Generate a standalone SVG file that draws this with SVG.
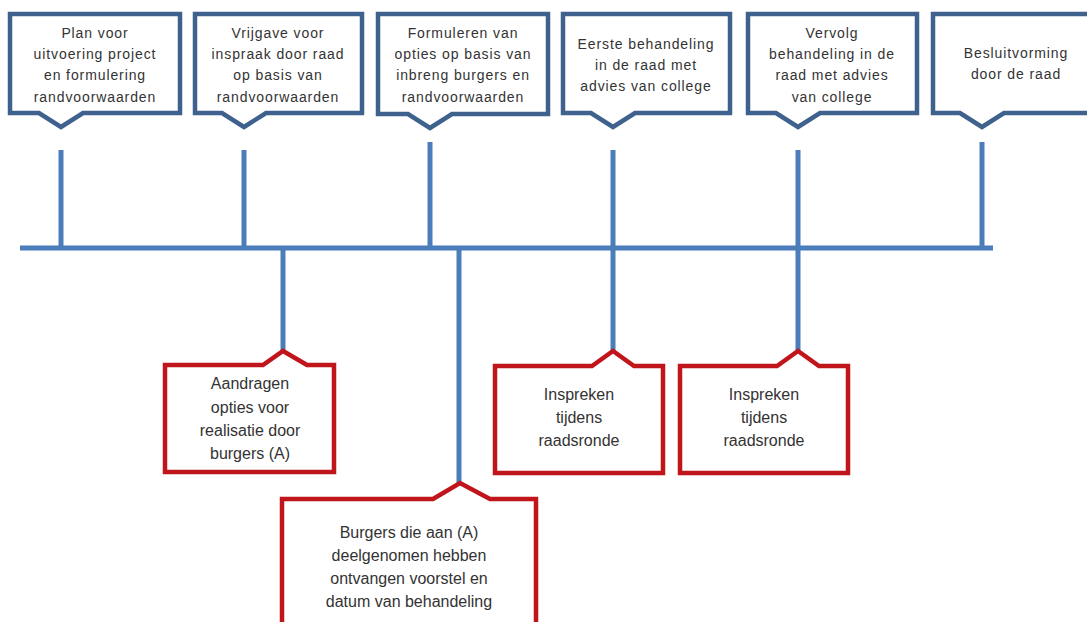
<svg xmlns="http://www.w3.org/2000/svg" width="1087" height="622" viewBox="0 0 1087 622">
<style>
.bb{fill:#fff;stroke:#3f618d;stroke-width:4.5;stroke-linejoin:miter}
.rb{fill:#fff;stroke:#c0151b;stroke-width:4.5;stroke-linejoin:miter}
.ln{stroke:#4a7dba;stroke-width:5;fill:none}
.t{font-family:"Liberation Sans",Arial,sans-serif;font-size:14px;fill:#333;text-anchor:middle;letter-spacing:0.9px}
.tr{font-family:"Liberation Sans",Arial,sans-serif;font-size:16px;fill:#333;text-anchor:middle}
</style>
<rect width="1087" height="622" fill="#fff"/>
<g id="connectors">
<line class="ln" x1="20" y1="248" x2="993" y2="248"/>
<line class="ln" x1="61" y1="150" x2="61" y2="248"/>
<line class="ln" x1="244" y1="150" x2="244" y2="248"/>
<line class="ln" x1="430" y1="142" x2="430" y2="248"/>
<line class="ln" x1="613" y1="150" x2="613" y2="350"/>
<line class="ln" x1="798" y1="150" x2="798" y2="350"/>
<line class="ln" x1="982" y1="142" x2="982" y2="248"/>
<line class="ln" x1="283" y1="248" x2="283" y2="350"/>
<line class="ln" x1="459" y1="248" x2="459" y2="484"/>
</g>
<g id="n1">
<path class="bb" d="M10,14 H180 V113 H83 L61,127 L39,113 H10 Z"/>
<text class="t" x="95" y="38">Plan voor</text>
<text class="t" x="95" y="59">uitvoering project</text>
<text class="t" x="95" y="80">en formulering</text>
<text class="t" x="95" y="102">randvoorwaarden</text>
</g>
<g id="n2">
<path class="bb" d="M195,14 H362 V113 H266 L244,127 L222,113 H195 Z"/>
<text class="t" x="278" y="38">Vrijgave voor</text>
<text class="t" x="278" y="59">inspraak door raad</text>
<text class="t" x="278" y="80">op basis van</text>
<text class="t" x="278" y="102">randvoorwaarden</text>
</g>
<g id="n3">
<path class="bb" d="M378,14 H548 V114 H452 L430,128 L408,114 H378 Z"/>
<text class="t" x="463" y="38">Formuleren van</text>
<text class="t" x="463" y="59">opties op basis van</text>
<text class="t" x="463" y="80">inbreng burgers en</text>
<text class="t" x="463" y="102">randvoorwaarden</text>
</g>
<g id="n4">
<path class="bb" d="M563,14 H730 V113 H635 L613,127 L591,113 H563 Z"/>
<text class="t" x="646" y="49">Eerste behandeling</text>
<text class="t" x="646" y="70">in de raad met</text>
<text class="t" x="646" y="91">advies van college</text>
</g>
<g id="n5">
<path class="bb" d="M748,14 H917 V113 H820 L798,127 L776,113 H748 Z"/>
<text class="t" x="832" y="38">Vervolg</text>
<text class="t" x="832" y="59">behandeling in de</text>
<text class="t" x="832" y="80">raad met advies</text>
<text class="t" x="832" y="102">van college</text>
</g>
<g id="n6">
<path class="bb" d="M933,14 H1103 V113 H1004 L982,127 L960,113 H933 Z"/>
<text class="t" x="1016" y="58">Besluitvorming</text>
<text class="t" x="1016" y="79">door de raad</text>
</g>
<g id="r1">
<path class="rb" d="M165,365 H263 L283,351 L307,365 H334 V472 H165 Z"/>
<text class="tr" x="250" y="389">Aandragen</text>
<text class="tr" x="250" y="413">opties voor</text>
<text class="tr" x="250" y="436">realisatie door</text>
<text class="tr" x="250" y="459">burgers (A)</text>
</g>
<g id="r2">
<path class="rb" d="M495,366 H592 L613,351 L634,366 H663 V473 H495 Z"/>
<text class="tr" x="579" y="400">Inspreken</text>
<text class="tr" x="579" y="423">tijdens</text>
<text class="tr" x="579" y="446">raadsronde</text>
</g>
<g id="r3">
<path class="rb" d="M680,366 H777 L798,351 L819,366 H848 V473 H680 Z"/>
<text class="tr" x="764" y="400">Inspreken</text>
<text class="tr" x="764" y="423">tijdens</text>
<text class="tr" x="764" y="446">raadsronde</text>
</g>
<g id="r4">
<path class="rb" d="M282,499 H433 L460,483 L490,499 H536 V640 H282 Z"/>
<text class="tr" x="409" y="538">Burgers die aan (A)</text>
<text class="tr" x="409" y="561">deelgenomen hebben</text>
<text class="tr" x="409" y="584">ontvangen voorstel en</text>
<text class="tr" x="409" y="607">datum van behandeling</text>
</g>
</svg>
